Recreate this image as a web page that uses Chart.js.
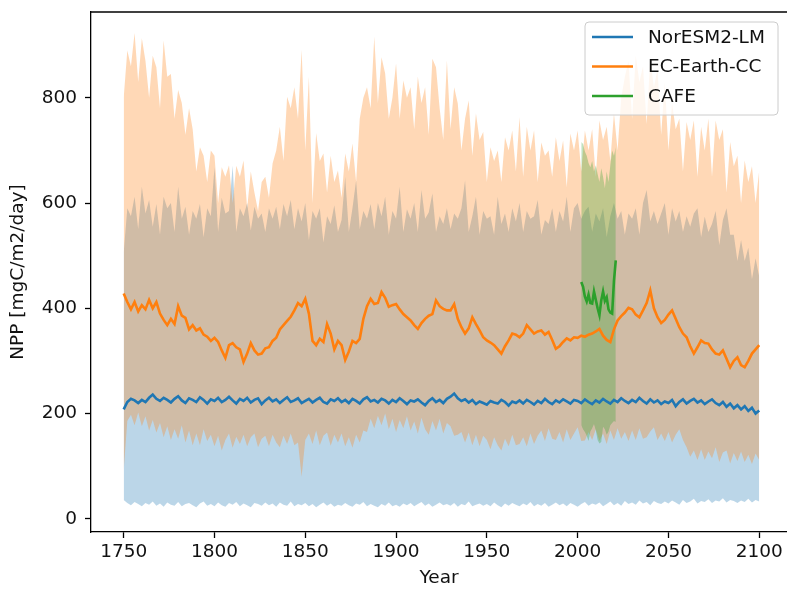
<!DOCTYPE html>
<html lang="en">
<head>
<meta charset="UTF-8">
<title>NPP – NorESM2-LM, EC-Earth-CC, CAFE</title>
<script src="https://cdn.jsdelivr.net/npm/chart.js"></script>
</head>
<body style="margin:0;background:#fff;">
<canvas id="nppChart" width="787" height="590"></canvas>
<script>
// model runs, every second year from 1750 to 2100
const START_YEAR = 1750;
const YEAR_STEP = 2;

// NorESM2-LM mean and spread
const noresmMean = [
  208, 222, 228, 225, 220, 226, 222, 230, 236, 228,
  224, 230, 226, 221, 228, 233, 225, 220, 229, 226,
  222, 231, 226, 219, 227, 224, 230, 222, 226, 232,
  225, 219, 228, 224, 230, 221, 226, 229, 218, 225,
  230, 223, 227, 220, 226, 231, 222, 225, 229, 220,
  224, 228, 221, 226, 230, 222, 219, 227, 224, 229,
  222, 226, 220, 228, 224, 219, 227, 231, 223, 226,
  221, 228, 225, 219, 226, 222, 229, 224, 218, 225,
  223, 227, 221, 216, 224, 229, 222, 226, 220, 228,
  232, 238, 229, 224, 227, 221, 226, 218, 223, 220,
  217, 224, 221, 219, 226, 222, 215, 223, 220, 225,
  219, 226, 222, 217, 224, 220, 228, 222, 218, 225,
  221, 227, 223, 219, 226, 224, 220, 227, 222, 218,
  225, 221, 228, 223, 219, 226, 222, 229, 224, 220,
  226, 222, 230, 224, 219, 227, 221, 225, 218, 223,
  220, 226, 214, 222, 227, 219, 224, 228, 221, 225,
  218, 223, 227, 220, 216, 222, 213, 219, 210, 216,
  208, 214, 205, 211, 200, 206
];
const noresmHigh = [
  505, 590, 575, 612, 550, 631, 580, 606, 555, 598,
  540, 612, 590, 600, 545, 631, 570, 593, 540, 585,
  570, 598, 535, 590, 575, 668, 545, 610, 580, 585,
  671, 545, 590, 575, 600, 548, 593, 570, 580, 545,
  590, 570, 593, 550, 598, 575, 606, 550, 590, 565,
  600, 530, 585, 570, 590, 525, 575, 560, 596, 545,
  568, 650, 545, 590, 643, 550, 585, 570, 598, 550,
  600, 575, 612, 540, 585, 570, 631, 545, 588, 570,
  600, 545, 625, 570, 582, 618, 545, 575, 560, 590,
  550, 580, 570, 590, 643, 545, 575, 612, 540, 585,
  570, 575, 540, 612, 560, 580, 545, 590, 565, 600,
  545, 585, 570, 575, 606, 540, 568, 560, 590, 545,
  585, 565, 612, 545, 590, 600, 570, 585, 593, 545,
  580, 565, 590, 535, 575, 600, 570, 585, 540, 580,
  570, 590, 540, 600, 625, 565, 585, 560, 580, 600,
  540, 590, 565, 585, 545, 575, 555, 580, 590, 535,
  574, 545, 560, 585, 520, 568, 590, 540, 540, 490,
  530, 490, 515, 455, 495, 460
];
const noresmLow = [
  36, 30, 26, 32, 28, 24, 30, 27, 33, 25,
  29, 23, 31, 27, 25, 32, 24, 28, 30, 26,
  22, 29, 33, 25, 28, 24, 31, 26, 23, 30,
  27, 32, 24, 29, 26, 22, 30, 28, 25, 31,
  26, 29, 23, 31, 27, 25, 33, 24, 28, 26,
  30, 24, 28, 22, 27, 31, 25, 29, 23, 27,
  25, 30, 26, 23, 29, 27, 32, 24, 28, 25,
  22, 28, 25, 31, 24, 27, 23, 29, 26, 30,
  24, 28, 32, 25, 29, 23, 27, 31, 26, 28,
  25, 30, 23, 28, 26, 33, 24, 27, 29, 25,
  28, 24, 31, 26, 22, 29, 25, 30, 27, 24,
  29, 26, 32, 24, 28, 25, 30, 23, 27, 31,
  26, 29, 24, 30, 27, 23, 28, 32, 25, 29,
  27, 31, 24, 28, 33, 26, 30, 25, 34, 28,
  31, 27, 35, 29, 32, 26, 34, 30, 28, 33,
  29, 35, 31, 27, 36, 30, 33, 38, 29, 34,
  32, 37, 30, 35, 33, 39, 31, 36, 34, 30,
  35, 32, 38, 31, 36, 33
];

// EC-Earth-CC mean and spread
const ecMean = [
  428, 412, 398, 412, 394, 406, 398, 416, 400, 412,
  390, 378, 368, 380, 370, 404, 386, 382, 360, 368,
  358, 362, 350, 346, 338, 344, 336, 320, 306, 330,
  334, 326, 322, 298, 314, 334, 320, 312, 314, 324,
  326, 338, 344, 360, 368, 376, 384, 396, 410, 404,
  418, 390, 338, 330, 342, 336, 370, 352, 322, 338,
  330, 302, 318, 338, 334, 342, 380, 404, 418, 408,
  410, 431, 420, 403, 406, 408, 398, 389, 383, 377,
  368, 361, 372, 380, 386, 389, 415, 404, 399, 396,
  396, 408, 380, 364, 352, 362, 383, 370, 358, 345,
  339, 335, 330, 322, 314, 328, 339, 352, 350, 345,
  352, 368, 360, 352, 356, 358, 350, 355, 340, 323,
  328, 336, 343, 339, 345, 344, 348, 346, 350, 352,
  356, 361, 348, 340, 336, 360, 377, 385, 392, 401,
  398, 388, 383, 396, 410, 434, 400, 383, 372, 378,
  388, 396, 380, 364, 352, 345, 328, 314, 326, 339,
  334, 333, 322, 314, 312, 320, 304, 288, 300, 307,
  292, 288, 300, 314, 322, 330
];
const ecHigh = [
  800, 890, 860, 923, 830, 913, 870, 800, 880, 858,
  780, 909, 840, 845, 760, 815, 790, 730, 780, 740,
  660, 706, 690, 640, 700, 690, 600, 668, 650, 672,
  600, 671, 650, 681, 590, 660, 620, 585, 640, 650,
  610, 675, 700, 745, 680, 802, 780, 820, 760, 891,
  700, 840, 600, 733, 680, 694, 620, 690, 640, 662,
  610, 694, 660, 713, 640, 760, 800, 820, 780, 916,
  790, 877, 846, 760, 800, 865, 760, 833, 800, 820,
  740, 840, 790, 820, 730, 874, 858, 780, 720, 871,
  740, 820, 789, 700, 760, 795, 690, 770, 720, 735,
  640, 706, 680, 700, 640, 725, 700, 738, 660, 763,
  650, 745, 700, 738, 640, 715, 690, 700, 650, 725,
  680, 719, 630, 732, 700, 738, 660, 738, 700, 740,
  650, 757, 720, 745, 680, 770, 700, 800, 840, 870,
  760, 880, 830, 860, 750, 875, 820, 855, 730, 830,
  700, 790, 740, 760, 660, 754, 720, 757, 650, 745,
  700, 760, 650, 757, 720, 740, 620, 716, 670, 690,
  600, 681, 640, 670, 600, 662
];
const ecLow = [
  92, 186, 198, 178, 202, 176, 195, 168, 188, 164,
  182, 155, 176, 150, 170, 152, 178, 145, 168, 140,
  162, 140, 170, 148, 160, 138, 158, 130, 150, 162,
  135, 156, 142, 160, 138, 155, 162, 136, 152, 158,
  138, 160, 145, 136, 158, 142, 162, 140, 145, 80,
  150, 162, 142, 168, 140, 158, 164, 139, 160, 145,
  162, 138, 155, 135, 160, 145, 168, 165, 190, 172,
  196, 178, 200, 170, 190, 165, 188, 172, 195, 168,
  185, 162, 192, 170, 160, 186, 168, 190, 162, 182,
  176, 158, 160, 165, 145, 164, 140, 160, 138, 158,
  150, 132, 155, 140, 130, 152, 138, 160, 140, 142,
  155, 138, 162, 142, 158, 168, 148, 172, 152, 150,
  165, 145, 170, 150, 162, 174, 148, 149, 165, 150,
  170, 148, 162, 142, 168, 150, 172, 152, 165, 148,
  168, 150, 172, 152, 155, 166, 174, 150, 162, 148,
  165, 145, 160, 170, 150, 136, 118, 130, 112, 132,
  112, 128, 115, 136, 108, 126, 130, 105, 125, 110,
  128, 108, 122, 104, 124, 112
];

// CAFE reanalysis, yearly
const cafeYears = [2002, 2003, 2004, 2005, 2006, 2007, 2008, 2009, 2010, 2011,
                   2012, 2013, 2014, 2015, 2016, 2017, 2018, 2019, 2020, 2021];
const cafeMean = [450, 441, 422, 413, 426, 410, 409, 432, 416, 400,
                  387, 415, 432, 414, 421, 398, 392, 390, 452, 491];
const cafeHigh = [716, 712, 698, 690, 676, 668, 680, 660, 672, 655,
                  640, 666, 650, 628, 660, 640, 672, 700, 690, 706];
const cafeLow = [178, 170, 165, 158, 148, 166, 172, 180, 168, 150,
                 143, 146, 175, 170, 160, 166, 178, 182, 186, 184];

const seriesNames = ['NorESM2-LM', 'EC-Earth-CC', 'CAFE'];
const lineColors = ['#1f77b4', '#ff7f0e', '#2ca02c'];
const bandColors = ['rgba(31,119,180,0.3)', 'rgba(255,127,14,0.3)', 'rgba(44,160,44,0.3)'];
const xTicks = [1750, 1800, 1850, 1900, 1950, 2000, 2050, 2100];
const yTicks = [0, 200, 400, 600, 800];

const years = noresmMean.map((_, i) => START_YEAR + YEAR_STEP * i);
const pts = (xs, ys) => ys.map((y, i) => ({ x: xs[i], y: y }));

const FONT = 'DejaVu Sans';
const FS = 18.5;
Chart.defaults.font.family = FONT;
Chart.defaults.font.size = FS;
Chart.defaults.color = '#111';

function meanLine(k, xs, ys) {
  return { label: seriesNames[k], data: pts(xs, ys), borderColor: lineColors[k],
           borderWidth: 2.6, pointRadius: 0, fill: false };
}
function bandTop(k, xs, ys) {
  return { label: seriesNames[k] + ' range', data: pts(xs, ys), borderColor: 'rgba(0,0,0,0)',
           borderWidth: 0, pointRadius: 0, backgroundColor: bandColors[k], fill: '+1' };
}
function bandBottom(k, xs, ys) {
  return { label: seriesNames[k] + ' low', data: pts(xs, ys), borderColor: 'rgba(0,0,0,0)',
           borderWidth: 0, pointRadius: 0, fill: false };
}

// top spine + legend box like matplotlib's
const frameAndLegend = {
  id: 'frameAndLegend',
  afterDraw(chart) {
    const { ctx, chartArea: a } = chart;
    ctx.save();
    ctx.strokeStyle = '#000';
    ctx.lineWidth = 1.3;
    ctx.beginPath();
    ctx.moveTo(a.left, a.top);
    ctx.lineTo(a.right, a.top);
    ctx.stroke();

    const bx = a.right - 202, by = a.top + 10, bw = 193, bh = 93, r = 4;
    ctx.beginPath();
    ctx.moveTo(bx + r, by);
    ctx.arcTo(bx + bw, by, bx + bw, by + bh, r);
    ctx.arcTo(bx + bw, by + bh, bx, by + bh, r);
    ctx.arcTo(bx, by + bh, bx, by, r);
    ctx.arcTo(bx, by, bx + bw, by, r);
    ctx.closePath();
    ctx.fillStyle = 'rgba(255,255,255,0.8)';
    ctx.fill();
    ctx.strokeStyle = '#cccccc';
    ctx.lineWidth = 1;
    ctx.stroke();

    ctx.font = FS + 'px "' + FONT + '"';
    ctx.textBaseline = 'middle';
    ctx.textAlign = 'left';
    seriesNames.forEach((name, i) => {
      const yy = by + 15 + i * 29.5;
      ctx.strokeStyle = lineColors[i];
      ctx.lineWidth = 2.6;
      ctx.beginPath();
      ctx.moveTo(bx + 7, yy);
      ctx.lineTo(bx + 48, yy);
      ctx.stroke();
      ctx.fillStyle = '#111';
      ctx.fillText(name, bx + 63, yy + 1);
    });
    ctx.restore();
  }
};

new Chart(document.getElementById('nppChart'), {
  type: 'line',
  data: {
    datasets: [
      meanLine(0, years, noresmMean),
      meanLine(1, years, ecMean),
      meanLine(2, cafeYears, cafeMean),
      bandTop(2, cafeYears, cafeHigh),
      bandBottom(2, cafeYears, cafeLow),
      bandTop(1, years, ecHigh),
      bandBottom(1, years, ecLow),
      bandTop(0, years, noresmHigh),
      bandBottom(0, years, noresmLow)
    ]
  },
  options: {
    responsive: false,
    animation: false,
    devicePixelRatio: 1,
    events: [],
    layout: { padding: { top: 12, left: 0, right: 0, bottom: 0 } },
    plugins: { legend: { display: false }, tooltip: { enabled: false } },
    scales: {
      x: {
        type: 'linear',
        min: 1732,
        max: 2115.3,
        afterBuildTicks: s => { s.ticks = xTicks.map(v => ({ value: v })); },
        afterFit: s => { s.height = 58; s.paddingLeft = 0; s.paddingRight = 0; },
        ticks: { padding: 3, color: '#111', callback: v => String(v) },
        grid: { drawOnChartArea: false, tickLength: 6, tickColor: '#000', tickWidth: 1.3 },
        border: { color: '#000', width: 1.3 },
        title: { display: true, text: 'Year', color: '#111', padding: { top: 0, bottom: 1 } }
      },
      y: {
        type: 'linear',
        min: -25,
        max: 963,
        afterBuildTicks: s => { s.ticks = yTicks.map(v => ({ value: v })); },
        afterFit: s => { s.width = 91; s.paddingTop = 0; s.paddingBottom = 0; },
        ticks: { padding: 8, color: '#111', callback: v => String(v) },
        grid: { drawOnChartArea: false, tickLength: 6, tickColor: '#000', tickWidth: 1.3 },
        border: { color: '#000', width: 1.3 },
        title: { display: true, text: 'NPP [mgC/m2/day]', color: '#111', padding: { top: 7, bottom: 0 } }
      }
    }
  },
  plugins: [frameAndLegend]
});
</script>
</body>
</html>
